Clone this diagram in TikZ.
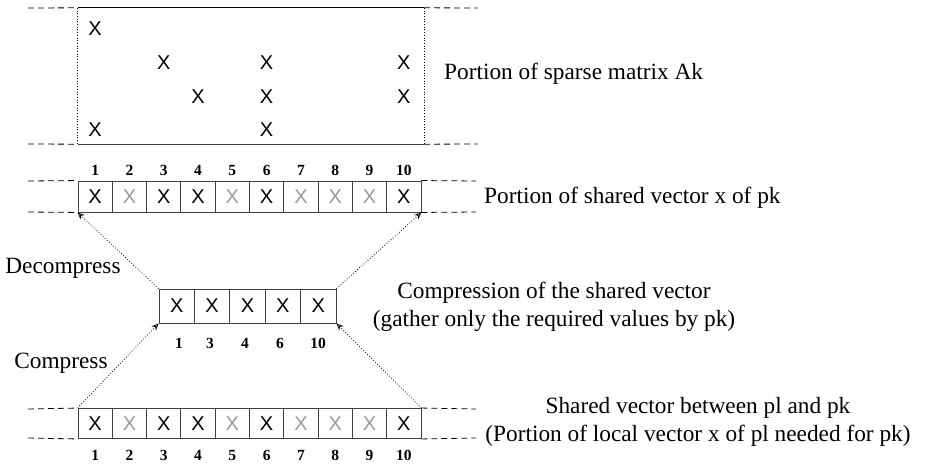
\documentclass[tikz,border=0pt]{standalone}
\usepackage{fontspec}
\setmainfont{Liberation Serif}
\newfontfamily\xfont{Liberation Sans}
\usetikzlibrary{arrows.meta}
\begin{document}
\begin{tikzpicture}[x=1pt,y=-1pt,
  cell/.style={draw=black!75, line width=0.9pt, minimum width=34.3pt, minimum height=31pt, inner sep=0pt, font=\xfont\fontsize{20}{20}\selectfont},
  mcell/.style={cell, minimum width=35.4pt, minimum height=34pt},
  mx/.style={inner sep=0pt, font=\xfont\fontsize{20}{20}\selectfont},
  num/.style={inner sep=0pt, font=\bfseries\fontsize{15.5}{15.5}\selectfont},
  lbl/.style={inner sep=0pt, font=\fontsize{23.3}{28}\selectfont},
  guide/.style={dash pattern=on 6pt off 4pt, line width=0.8pt},
  link/.style={dotted, line width=0.8pt, -{Stealth[open, length=7pt, width=6pt]}}]
\useasboundingbox (0,0) rectangle (930,466);

% sparse matrix portion
\node[minimum width=346pt, minimum height=136pt, inner sep=0pt] (mat) at (251,76) {};
\draw[line width=0.9pt] (mat.north west) -- (mat.north east);
\draw[line width=1pt, black!75] (mat.south west) -- (mat.south east);
\draw[dotted, line width=0.7pt] (mat.north west) -- (mat.south west);
\draw[dotted, line width=0.7pt] (mat.north east) -- (mat.south east);
\coordinate (mtl) at (28,8);
\coordinate (mbl) at (28,144);
\coordinate (mtr) at (478,8);
\coordinate (mbr) at (478,144);
\draw[guide] (mtl) -- (mat.north west);
\draw[guide] (mbl) -- (mat.south west);
\draw[guide] (mat.north east) -- (mtr);
\draw[guide] (mat.south east) -- (mbr);
\foreach \c/\r [count=\k] in {1/1, 3/2, 6/2, 10/2, 4/3, 6/3, 10/3, 1/4, 6/4}
  \node[mx] (x\k) at ({78+34.3*(\c-0.5)}, {29+33.7*(\r-1)}) {X};
\node[lbl, anchor=west] (lmat) at (444,74) {Portion of sparse matrix Ak};

% shared vector of pk
\foreach \i/\col in {1/black,2/black!40,3/black,4/black,5/black!40,6/black,7/black!40,8/black!40,9/black!40,10/black} {
  \node[cell, text=\col] (a\i) at ({78+34.3*(\i-0.5)},196.5) {X};
  \node[num] (na\i) at ({78+34.3*(\i-0.5)},170) {\i};
}
\coordinate (atl) at (28,181);
\coordinate (abl) at (28,212);
\coordinate (atr) at (476,181);
\coordinate (abr) at (476,212);
\draw[guide] (atl) -- (a1.north west);
\draw[guide] (abl) -- (a1.south west);
\draw[guide] (a10.north east) -- (atr);
\draw[guide] (a10.south east) -- (abr);
\node[lbl, anchor=west] (la) at (484,198) {Portion of shared vector x of pk};

% compressed vector
\foreach \i in {1,...,5} {
  \node[mcell] (m\i) at ({159+35.4*(\i-0.5)},306) {X};
}
\node[num] (nm1) at (179,343) {1};
\node[num] (nm2) at (210,343) {3};
\node[num] (nm3) at (245,343) {4};
\node[num] (nm4) at (280,343) {6};
\node[num] (nm5) at (318,343) {10};
\node[lbl, align=center] (lm) at (554,307) {Compression of the shared vector\\(gather only the required values by pk)};

% shared vector between pl and pk
\foreach \i/\col in {1/black,2/black!40,3/black,4/black,5/black!40,6/black,7/black!40,8/black!40,9/black!40,10/black} {
  \node[cell, text=\col, minimum height=30pt] (b\i) at ({78+34.3*(\i-0.5)},423.5) {X};
  \node[num] (nb\i) at ({78+34.3*(\i-0.5)},455) {\i};
}
\coordinate (btl) at (28,409);
\coordinate (bbl) at (28,438);
\coordinate (btr) at (476,409);
\coordinate (bbr) at (476,438);
\draw[guide] (btl) -- (b1.north west);
\draw[guide] (bbl) -- (b1.south west);
\draw[guide] (b10.north east) -- (btr);
\draw[guide] (b10.south east) -- (bbr);
\node[lbl, align=center] (lb) at (698,422) {Shared vector between pl and pk\\(Portion of local vector x of pl needed for pk)};

% connectors
\draw[link] (m1.north west) -- (a1.south west);
\draw[link] (m5.north east) -- (a10.south east);
\draw[link] (b1.north west) -- (m1.south west);
\draw[link] (b10.north east) -- (m5.south east);
\node[lbl] (ldec) at (63,268) {Decompress};
\node[lbl] (lcomp) at (61,363) {Compress};
\end{tikzpicture}
\end{document}
